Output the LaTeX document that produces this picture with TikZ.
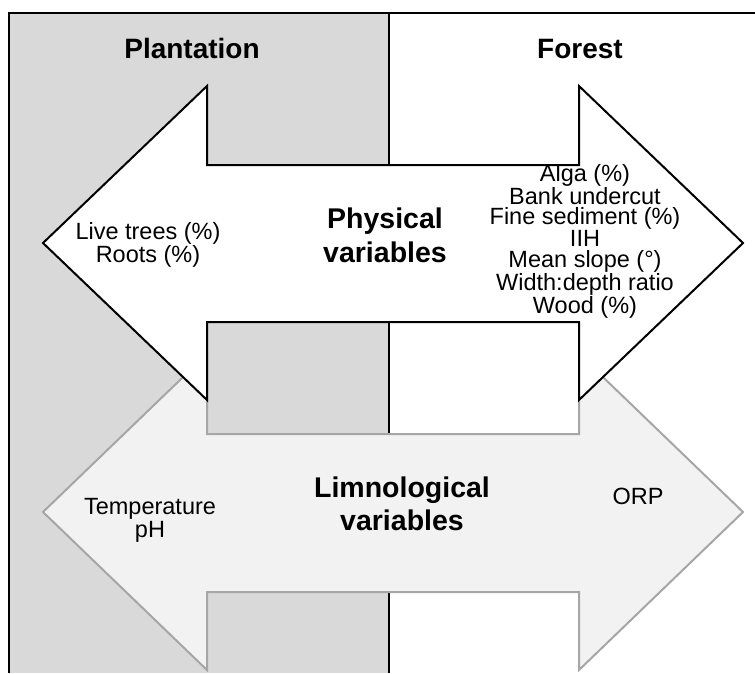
\documentclass[tikz,border=0pt]{standalone}
\usepackage{fontspec}
\setmainfont{Liberation Sans}
\definecolor{plantgray}{HTML}{D9D9D9}
\definecolor{limnofill}{HTML}{F2F2F2}
\definecolor{limnoline}{HTML}{A6A6A6}
\tikzset{
  frameline/.style={draw=black, line width=2.2pt},
  physarrow/.style={draw=black, fill=white, line width=2pt, line join=miter},
  limnoarrow/.style={draw=limnoline, fill=limnofill, line width=2pt, line join=miter},
  headtext/.style={font=\fontsize{28}{32}\selectfont\bfseries, inner sep=0pt, anchor=base},
  titletext/.style={font=\fontsize{28.5}{34}\selectfont\bfseries, inner sep=0pt, anchor=base, align=center},
  listtext/.style={font=\fontsize{23.5}{20}\selectfont, inner sep=0pt, anchor=base, align=center}
}
\begin{document}
\begin{tikzpicture}[x=1pt,y=-1pt]
\useasboundingbox (0,0) rectangle (755,673);
% background regions
\fill[plantgray] (9,13) rectangle (389,673);
\draw[frameline] (389,13) -- (389,673);
\draw[frameline] (9,673) -- (9,13) -- (755,13);
% headings
\node[headtext] (plant) at (192,58) {Plantation};
\node[headtext] (forest) at (580,58) {Forest};
% limnological arrow (behind)
\draw[limnoarrow] (43,512) -- (207,354) -- (207,434) -- (579,434) -- (579,354) -- (743,512)
  -- (579,670) -- (579,592) -- (207,592) -- (207,670) -- cycle;
% physical arrow (front)
\draw[physarrow] (43,243) -- (207,86) -- (207,165) -- (579,165) -- (579,86) -- (743,243)
  -- (579,400) -- (579,322) -- (207,322) -- (207,400) -- cycle;
% texts (anchor = baseline of last line)
\node[titletext, font=\fontsize{28.5}{34}\selectfont\bfseries] (phys) at (385,262) {Physical\\variables};
\node[titletext, font=\fontsize{28.5}{33}\selectfont\bfseries] (limno) at (402,530) {Limnological\\variables};
\node[listtext, font=\fontsize{23.5}{19}\selectfont] (plantphys) at (148,262) {Live trees (\%)\\Roots (\%)};
\node[listtext, font=\fontsize{23.5}{20.2}\selectfont] (forestphys) at (585,313)
  {Alga (\%)\\Bank undercut\\Fine sediment (\%)\\IIH\\Mean slope (°)\\Width:depth ratio\\Wood (\%)};
\node[listtext, font=\fontsize{23.5}{19}\selectfont] (plantlimno) at (150,537) {Temperature\\pH};
\node[listtext] (forestlimno) at (638,504) {ORP};
\end{tikzpicture}
\end{document}
